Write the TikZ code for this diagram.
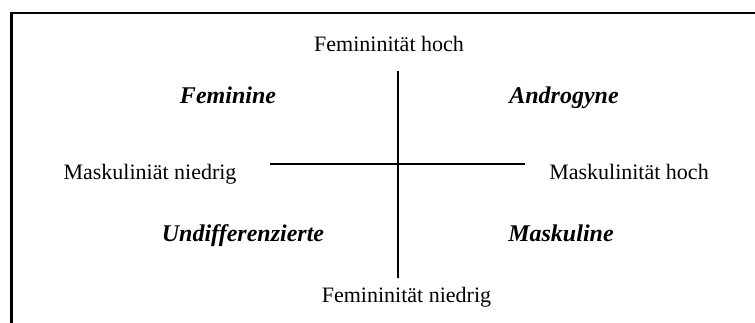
\documentclass[tikz,border=0pt]{standalone}
\usepackage{fontspec}
\setmainfont{Liberation Serif}
\tikzset{
  axislabel/.style={anchor=base, inner sep=0pt, font=\fontsize{22}{26}\selectfont},
  quadlabel/.style={anchor=base, inner sep=0pt, font=\fontsize{24}{28}\selectfont\bfseries\itshape},
  axisline/.style={line width=1.7pt},
  frameline/.style={line width=2.5pt}
}
\begin{document}
\begin{tikzpicture}[x=1pt,y=-1pt]
\useasboundingbox (0,0) rectangle (755,323);
\fill[white] (0,0) rectangle (755,323);
% frame (right and bottom sides lie outside the picture)
\coordinate (fbl) at (11.3,330);
\coordinate (ftl) at (11.3,12.8);
\coordinate (ftr) at (762,12.8);
\draw[frameline] (fbl) -- (ftl) -- (ftr);
% axes
\coordinate (vtop) at (397.7,70.7);
\coordinate (vbot) at (397.7,278);
\coordinate (hleft) at (270,163.8);
\coordinate (hright) at (525,163.8);
\draw[axisline] (vtop) -- (vbot);
\draw[axisline] (hleft) -- (hright);
% axis labels
\node[axislabel] (fh) at (389,51.6) {Femininität hoch};
\node[axislabel] (fn) at (406.5,302.6) {Femininität niedrig};
\node[axislabel] (mn) at (150,179.5) {Maskuliniät niedrig};
\node[axislabel] (mh) at (629,179.5) {Maskulinität hoch};
% quadrant labels
\node[quadlabel] (fem) at (228,103.5) {Feminine};
\node[quadlabel] (andr) at (564,103.5) {Androgyne};
\node[quadlabel] (undiff) at (243,241) {Undifferenzierte};
\node[quadlabel] (mask) at (561,241) {Maskuline};
\end{tikzpicture}
\end{document}
